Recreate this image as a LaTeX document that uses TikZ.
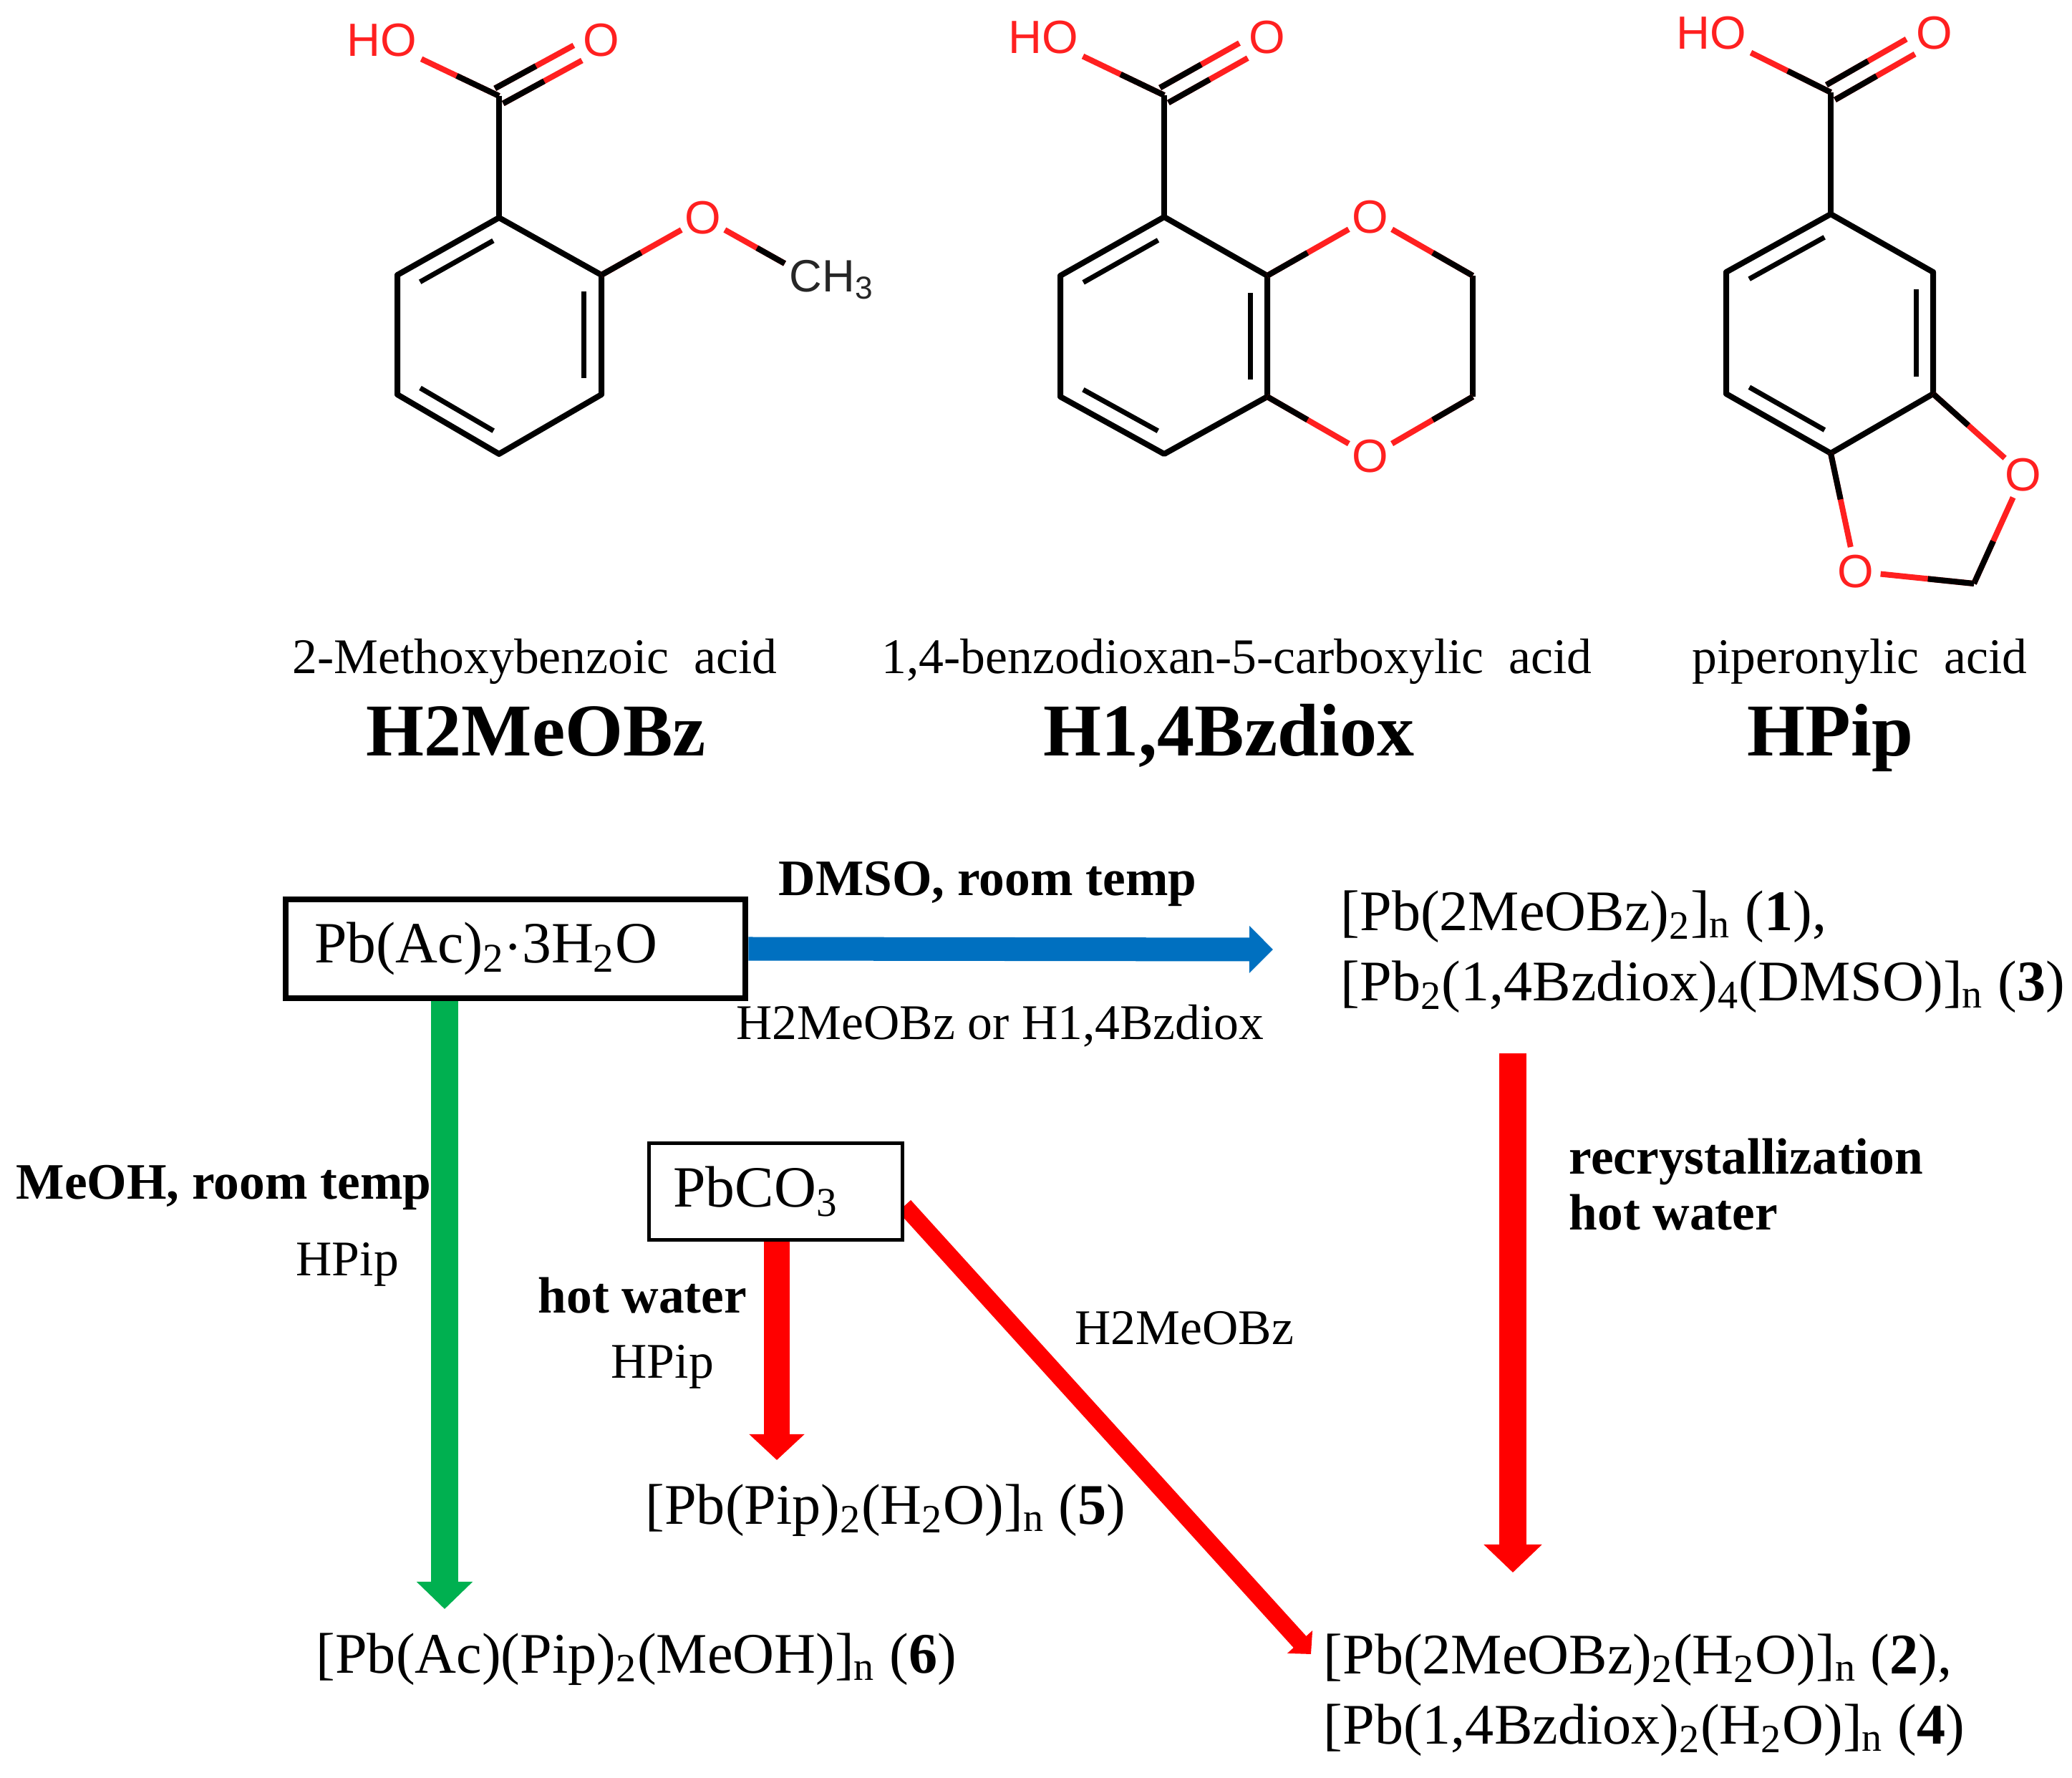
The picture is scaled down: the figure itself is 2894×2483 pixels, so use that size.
\documentclass[tikz,border=0pt]{standalone}
\usepackage{fontspec}
\setmainfont{Liberation Serif}
\newfontfamily\atomfont{Liberation Sans}
\usetikzlibrary{arrows.meta,backgrounds,calc}
\definecolor{flowblue}{HTML}{0070C0}
\definecolor{flowgreen}{HTML}{00B050}
\definecolor{atomred}{HTML}{FF2020}

% half black, half red bond: from carbon #2 to oxygen node #3
\newcommand{\halfbond}[3][.39]{
	\draw[bond,atomred] (#2) -- (#3);
	\draw[bond] (#2) -- ($(#2)!#1!(#3)$);
}
% inner line of a ring double bond
\newcommand{\innerbond}[2]{
	\draw[thinbond] ($(#1)!.14!(#2)!.24cm!90:(#2)$) -- ($(#2)!.14!(#1)!.24cm!-90:(#1)$);
}
% carboxyl group: C=O twice, C-OH, C-ring
\newcommand{\carboxyl}[4]{
	\foreach \side in {90,-90}{
		\coordinate (sa) at ($(#1)!.12cm!\side:(#2)$);
		\coordinate (ea) at ($(#2)!.12cm!-\side:(#1)$);
		\draw[bond,atomred] (sa) -- ($(sa)!.77!(ea)$);
		\draw[bond] (sa) -- ($(sa)!.4!(ea)$);
	}
	\halfbond[.36]{#1}{#3}
	\draw[bond] (#1) -- (#4);
}

\begin{document}
\begin{tikzpicture}
	[x=.01cm,y=-.01cm,
	bond/.style={line width=.08cm,line join=round},
	thinbond/.style={line width=.07cm},
	atom/.style={circle,inner sep=0pt,minimum size=.64cm,text=atomred,font=\atomfont\fontsize{18.5}{20}\selectfont},
	hydroxyl/.style={inner sep=.06cm,text=atomred,font=\atomfont\fontsize{18.5}{20}\selectfont},
	acidname/.style={anchor=base west,inner sep=0pt,font=\fontsize{19.8}{22}\selectfont},
	ligand/.style={anchor=base west,inner sep=0pt,font=\bfseries\fontsize{29.6}{34}\selectfont},
	formula/.style={anchor=base west,inner sep=0pt,font=\fontsize{22.8}{28}\selectfont},
	cond/.style={anchor=base west,inner sep=0pt,font=\fontsize{19.8}{22}\selectfont},
	condb/.style={cond,font=\bfseries\fontsize{20.3}{22}\selectfont},
	startbox/.style={draw,fill=white,anchor=west,align=left,inner ysep=0pt,font=\fontsize{23.2}{28}\selectfont},
	flow/.style={line width=#1}]
	\useasboundingbox (0,0) rectangle (2894,2483);

	% 2-methoxybenzoic acid
	\coordinate (ac) at (697,134);
	\coordinate (at) at (697,304);
	\coordinate (ar) at (840,384);
	\coordinate (as) at (840,551);
	\coordinate (ab) at (697,634);
	\coordinate (am) at (555,551);
	\coordinate (al) at (555,384);
	\node[hydroxyl] (aho) at (533,56) {HO};
	\node[atom] (ao) at (840,56) {O};
	\node[atom] (ae) at (982,304) {O};
	\node[anchor=base west,inner sep=0pt,text=black!85,font=\atomfont\fontsize{18}{20}\selectfont] (ame) at (1102,408) {CH\textsubscript{3}};
	\coordinate (amec) at (1096,368);
	\carboxyl{ac}{ao}{aho}{at}
	\draw[bond] (at) -- (ar) -- (as) -- (ab) -- (am) -- (al) -- cycle;
	\innerbond{at}{al}
	\innerbond{am}{ab}
	\innerbond{as}{ar}
	\halfbond{ar}{ae}
	\halfbond[.34]{amec}{ae}

	% 1,4-benzodioxan-5-carboxylic acid
	\coordinate (bc) at (1626,133);
	\coordinate (bt) at (1626,303);
	\coordinate (br) at (1770,385);
	\coordinate (bs) at (1770,554);
	\coordinate (bb) at (1626,634);
	\coordinate (bm) at (1481,554);
	\coordinate (bl) at (1481,385);
	\coordinate (bu) at (2057,385);
	\coordinate (bv) at (2057,554);
	\node[hydroxyl] (bho) at (1457,52) {HO};
	\node[atom] (bo) at (1770,52) {O};
	\node[atom] (be) at (1914,303) {O};
	\node[atom] (bf) at (1914,637) {O};
	\carboxyl{bc}{bo}{bho}{bt}
	\draw[bond] (bt) -- (br) -- (bs) -- (bb) -- (bm) -- (bl) -- cycle;
	\innerbond{bt}{bl}
	\innerbond{bm}{bb}
	\innerbond{bs}{br}
	\draw[bond] (bu) -- (bv);
	\foreach \i/\j in {br/be,bu/be,bs/bf,bv/bf}{
		\halfbond{\i}{\j}
	}

	% piperonylic acid
	\coordinate (cc) at (2557,129);
	\coordinate (ct) at (2557,299);
	\coordinate (cr) at (2700,380);
	\coordinate (cs) at (2700,550);
	\coordinate (cb) at (2557,633);
	\coordinate (cm) at (2411,550);
	\coordinate (cl) at (2411,380);
	\coordinate (cd) at (2757,815);
	\node[hydroxyl] (cho) at (2390,46) {HO};
	\node[atom] (co) at (2702,46) {O};
	\node[atom] (ce) at (2826,663) {O};
	\node[atom] (cf) at (2592,798) {O};
	\carboxyl{cc}{co}{cho}{ct}
	\draw[bond] (ct) -- (cr) -- (cs) -- (cb) -- (cm) -- (cl) -- cycle;
	\innerbond{ct}{cl}
	\innerbond{cm}{cb}
	\innerbond{cs}{cr}
	\foreach \i/\j in {cs/ce,cb/cf,cd/ce,cd/cf}{
		\halfbond{\i}{\j}
	}

	% names
	\node[acidname] (aname) at (408,941) {2-Methoxybenzoic\enspace acid};
	\node[acidname] (bname) at (1231,941) {1,4-benzodioxan-5-carboxylic\enspace acid};
	\node[acidname] (cname) at (2363,941) {piperonylic\enspace acid};
	\node[ligand] (alig) at (511,1056) {H2MeOBz};
	\node[ligand] (blig) at (1457,1056) {H1,4Bzdiox};
	\node[ligand] (clig) at (2440,1056) {HPip};

	% reagents
	\node[startbox,line width=.08cm,inner xsep=.4cm,text width=5.62cm,minimum height=1.37cm] (acbox) at (395,1325) {Pb(Ac)\textsubscript{2}$\cdot$3H\textsubscript{2}O};
	\node[startbox,line width=.05cm,inner xsep=.34cm,text width=2.86cm,minimum height=1.34cm] (carbbox) at (904,1664) {PbCO\textsubscript{3}};

	% products
	\node[formula] (prodone) at (1872,1299) {[Pb(2MeOBz)\textsubscript{2}]\textsubscript{n} (\textbf{1}),};
	\node[formula] (prodthree) at (1872,1397) {[Pb\textsubscript{2}(1,4Bzdiox)\textsubscript{4}(DMSO)]\textsubscript{n} (\textbf{3})};
	\node[formula] (prodfive) at (901,2128) {[Pb(Pip)\textsubscript{2}(H\textsubscript{2}O)]\textsubscript{n} (\textbf{5})};
	\node[formula] (prodsix) at (441,2336) {[Pb(Ac)(Pip)\textsubscript{2}(MeOH)]\textsubscript{n} (\textbf{6})};
	\node[formula] (prodtwo) at (1848,2337) {[Pb(2MeOBz)\textsubscript{2}(H\textsubscript{2}O)]\textsubscript{n} (\textbf{2}),};
	\node[formula] (prodfour) at (1848,2435) {[Pb(1,4Bzdiox)\textsubscript{2}(H\textsubscript{2}O)]\textsubscript{n} (\textbf{4})};

	% conditions
	\node[condb] (dmso) at (1087,1250) {DMSO, room temp};
	\node[cond] (bzor) at (1028,1451) {H2MeOBz or H1,4Bzdiox};
	\node[condb] (meoh) at (22,1674) {MeOH, room temp};
	\node[cond] (hpipa) at (413,1781) {HPip};
	\node[condb] (hotb) at (751,1833) {hot water};
	\node[cond] (hpipb) at (853,1924) {HPip};
	\node[cond] (hmeo) at (1501,1877) {H2MeOBz};
	\node[condb] (recr) at (2191,1639) {recrystallization};
	\node[condb] (hota) at (2191,1717) {hot water};

	% arrows
	\coordinate (bluetip) at (1778,1326);
	\coordinate (greentip) at (621,2247);
	\coordinate (shorttip) at (1085,2039);
	\coordinate (longtop) at (2113,1471);
	\coordinate (longtip) at (2113,2196);
	\coordinate (diagtip) at (1831,2310);
	\begin{scope}[on background layer]
		\draw[flow=.33cm,flowblue,-{Triangle[length=.33cm,width=.64cm]}] (acbox.east) -- (bluetip);
		\draw[flow=.38cm,flowgreen,-{Triangle[length=.38cm,width=.76cm]}] (acbox.south -| greentip) -- (greentip);
		\draw[flow=.36cm,red,-{Triangle[length=.36cm,width=.75cm]}] (carbbox.south -| shorttip) -- (shorttip);
		\draw[flow=.38cm,red,-{Triangle[length=.39cm,width=.79cm]}] (longtop) -- (longtip);
		\draw[flow=.24cm,red,-{Triangle[length=.23cm,width=.46cm]}] ($(carbbox.east)+(0,20)$) -- (diagtip);
	\end{scope}
\end{tikzpicture}
\end{document}
